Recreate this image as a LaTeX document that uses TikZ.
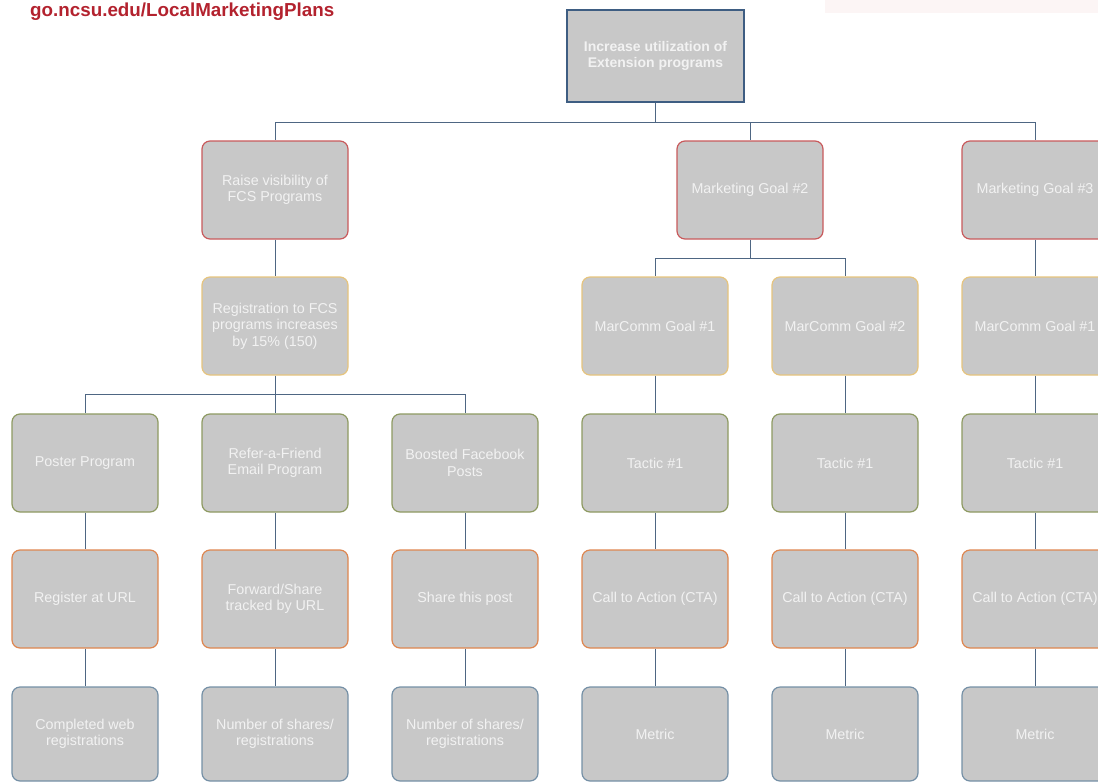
\documentclass[tikz,border=0pt]{standalone}
\usepackage{fontspec}
\setmainfont{Liberation Sans}
\begin{document}
\begin{tikzpicture}[x=1pt,y=-1pt,
  box/.style={rectangle, rounded corners=8pt, fill=boxgray, line width=1.2pt,
    minimum width=146pt, minimum height=98pt, align=center, text=boxtext,
    font=\fontsize{14.3}{16.5}\selectfont, inner sep=1pt},
  goalbox/.style={box, draw=goalred},
  mcbox/.style={box, draw=mcyellow},
  tacbox/.style={box, draw=tacgreen},
  ctabox/.style={box, draw=ctaorange},
  metbox/.style={box, draw=metblue},
  link/.style={draw=linkblue, line width=1pt}]
\definecolor{boxgray}{HTML}{C8C8C8}
\definecolor{boxtext}{HTML}{F2F2F2}
\definecolor{goalred}{HTML}{C85A5C}
\definecolor{mcyellow}{HTML}{E6C47E}
\definecolor{tacgreen}{HTML}{8E9A62}
\definecolor{ctaorange}{HTML}{DE8650}
\definecolor{metblue}{HTML}{7590A6}
\definecolor{linkblue}{HTML}{4E6683}
\definecolor{rootblue}{HTML}{3E5D82}
\definecolor{titlered}{HTML}{B3222E}
\definecolor{faintpink}{HTML}{FCF5F5}
\useasboundingbox (0,0) rectangle (1098,782);
\fill[fill=faintpink] (825,0) rectangle (1098,13);
\node[anchor=west, text=titlered, font=\bfseries\fontsize{18.8}{22}\selectfont, inner sep=0pt] (title) at (30,12) {go.ncsu.edu/LocalMarketingPlans};
% root
\node[rectangle, fill=boxgray, draw=rootblue, line width=1.5pt, minimum width=177pt, minimum height=92pt,
  align=center, text=boxtext, font=\bfseries\fontsize{14}{16}\selectfont] (root) at (655.5,56) {Increase utilization of\\Extension programs};
% goals
\node[goalbox] (g1) at (275,190) {Raise visibility of\\FCS Programs};
\node[goalbox] (g2) at (750,190) {Marketing Goal \#2};
\node[goalbox] (g3) at (1035,190) {Marketing Goal \#3};
% marcomm
\node[mcbox] (m1) at (275,326) {Registration to FCS\\programs increases\\by 15\% (150)};
\node[mcbox] (m2) at (655,326) {MarComm Goal \#1};
\node[mcbox] (m3) at (845,326) {MarComm Goal \#2};
\node[mcbox] (m4) at (1035,326) {MarComm Goal \#1};
% tactics
\node[tacbox] (t1) at (85,463) {Poster Program};
\node[tacbox] (t2) at (275,463) {Refer-a-Friend\\Email Program};
\node[tacbox] (t3) at (465,463) {Boosted Facebook\\Posts};
\node[tacbox] (t4) at (655,463) {Tactic \#1};
\node[tacbox] (t5) at (845,463) {Tactic \#1};
\node[tacbox] (t6) at (1035,463) {Tactic \#1};
% CTA
\node[ctabox] (c1) at (85,599) {Register at URL};
\node[ctabox] (c2) at (275,599) {Forward/Share\\tracked by URL};
\node[ctabox] (c3) at (465,599) {Share this post};
\node[ctabox] (c4) at (655,599) {Call to Action (CTA)};
\node[ctabox] (c5) at (845,599) {Call to Action (CTA)};
\node[ctabox] (c6) at (1035,599) {Call to Action (CTA)};
% metrics
\node[metbox, minimum height=94pt] (k1) at (85,734) {Completed web\\registrations};
\node[metbox, minimum height=94pt] (k2) at (275,734) {Number of shares/\\registrations};
\node[metbox, minimum height=94pt] (k3) at (465,734) {Number of shares/\\registrations};
\node[metbox, minimum height=94pt] (k4) at (655,734) {Metric};
\node[metbox, minimum height=94pt] (k5) at (845,734) {Metric};
\node[metbox, minimum height=94pt] (k6) at (1035,734) {Metric};
% junctions
\coordinate (j0) at (0,122);
\coordinate (j1) at (0,394);
\coordinate (j2) at (0,258);
% connectors
\draw[link] (root.south) -- (root.south|-j0) -| (g1.north);
\draw[link] (root.south|-j0) -| (g2.north);
\draw[link] (root.south|-j0) -| (g3.north);
\draw[link] (g1.south) -- (m1.north);
\draw[link] (g2.south) -- (g2.south|-j2) -| (m2.north);
\draw[link] (g2.south|-j2) -| (m3.north);
\draw[link] (g3.south) -- (m4.north);
\draw[link] (m1.south) -- (m1.south|-j1) -| (t1.north);
\draw[link] (m1.south|-j1) -- (t2.north);
\draw[link] (m1.south|-j1) -| (t3.north);
\draw[link] (m2.south) -- (t4.north);
\draw[link] (m3.south) -- (t5.north);
\draw[link] (m4.south) -- (t6.north);
\foreach \i in {1,...,6} {
  \draw[link] (t\i.south) -- (c\i.north);
  \draw[link] (c\i.south) -- (k\i.north);
}
\end{tikzpicture}
\end{document}
